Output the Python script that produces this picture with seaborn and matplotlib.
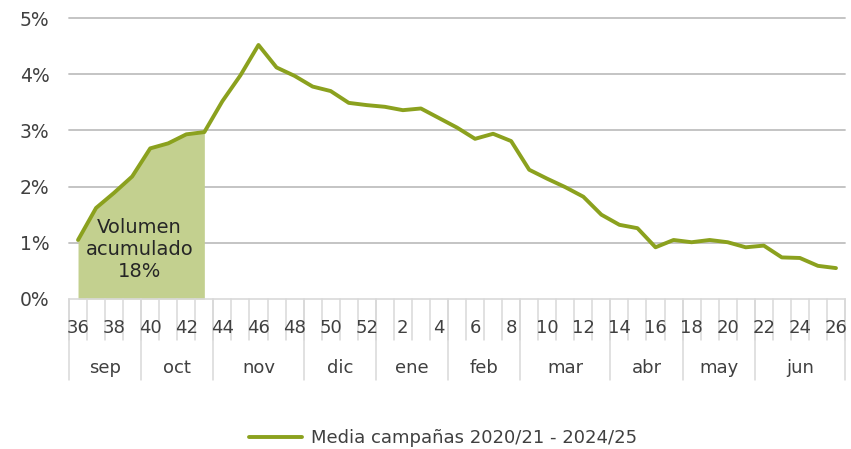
import numpy as np
import pandas as pd
import matplotlib
matplotlib.use("Agg")
import matplotlib.pyplot as plt
import matplotlib.transforms as mtransforms
from matplotlib.lines import Line2D
import seaborn as sns

weeks = list(range(36, 53)) + list(range(1, 27))
values = [1.05, 1.62, 1.89, 2.18, 2.68, 2.77, 2.93, 2.97, 3.52, 3.98,
          4.52, 4.12, 3.97, 3.78, 3.70, 3.49, 3.45, 3.42, 3.36, 3.39,
          3.22, 3.05, 2.85, 2.94, 2.81, 2.30, 2.14, 1.99, 1.82, 1.50,
          1.32, 1.26, 0.92, 1.05, 1.01, 1.05, 1.01, 0.92, 0.95, 0.74,
          0.73, 0.59, 0.55]
months = ["sep", "oct", "nov", "dic", "ene", "feb", "mar", "abr", "may", "jun"]
month_weeks = [4, 4, 5, 4, 4, 4, 5, 4, 4, 5]
fill_weeks = 8
fill_label = "Volumen\nacumulado\n18%"
series_name = "Media campañas 2020/21 - 2024/25"
yticks = [0, 1, 2, 3, 4, 5]

sns.set_theme(style="white")
plt.rcParams['font.family'] = ['DejaVu Sans']
txt = "#404040"

df = pd.DataFrame({"pos": np.arange(len(weeks)), "val": values})

fig = plt.figure(figsize=(8.51, 4.49), dpi=100)
ax = fig.add_axes([69/851, 1-299/449, (845-69)/851, (299-18)/449])

ax.fill_between(df["pos"][:fill_weeks], df["val"][:fill_weeks], 0,
                color="#C3D08F", linewidth=0, zorder=1)
sns.lineplot(data=df, x="pos", y="val", ax=ax, color="#8BA11E",
             linewidth=2.8, label=series_name, zorder=3, legend=False)

ax.set_xlim(-0.5, len(weeks) - 0.5)
ax.set_ylim(0, 5)
ax.set_yticks(yticks)
ax.set_yticklabels([f"{t}%" for t in yticks], color=txt, fontsize=13.5)
ax.tick_params(axis="y", length=0, pad=14)
ax.set_xticks([])
ax.set_xlabel("")
ax.set_ylabel("")
for t in yticks[1:]:
    ax.axhline(t, color="#BFBFBF", linewidth=1.3, zorder=0, clip_on=False)
for s in ["top", "right", "left"]:
    ax.spines[s].set_visible(False)
ax.spines["bottom"].set_color("#D9D9D9")
ax.spines["bottom"].set_linewidth(1.2)

trans = mtransforms.blended_transform_factory(ax.transData, ax.transAxes)
for k in range(len(weeks) + 1):
    ax.plot([k - 0.5, k - 0.5], [0, -0.146], transform=trans, color="#D9D9D9",
            linewidth=1.1, clip_on=False)
for i, w in enumerate(weeks):
    if i % 2 == 0:
        ax.text(i, -0.103, str(w), transform=trans, ha="center", va="center",
                color=txt, fontsize=13)
start = 0
bounds = [0]
for m, n in zip(months, month_weeks):
    ax.text(start + n / 2 - 0.5, -0.246, m, transform=trans, ha="center",
            va="center", color=txt, fontsize=13)
    start += n
    bounds.append(start)
for b in bounds:
    ax.plot([b - 0.5, b - 0.5], [0, -0.288], transform=trans, color="#D9D9D9",
            linewidth=1.1, clip_on=False)

ax.text(3.4, 0.88, fill_label, ha="center", va="center", color="#262626",
        fontsize=14, linespacing=1.2, zorder=4)

h = [Line2D([0], [0], color="#8BA11E", linewidth=2.8)]
fig.legend(h, [series_name], loc="center", bbox_to_anchor=(443/851, 1-438/449),
           frameon=False, fontsize=13, handlelength=2.9, handletextpad=0.5,
           labelcolor=txt)

fig.savefig("out.png", dpi=100)
